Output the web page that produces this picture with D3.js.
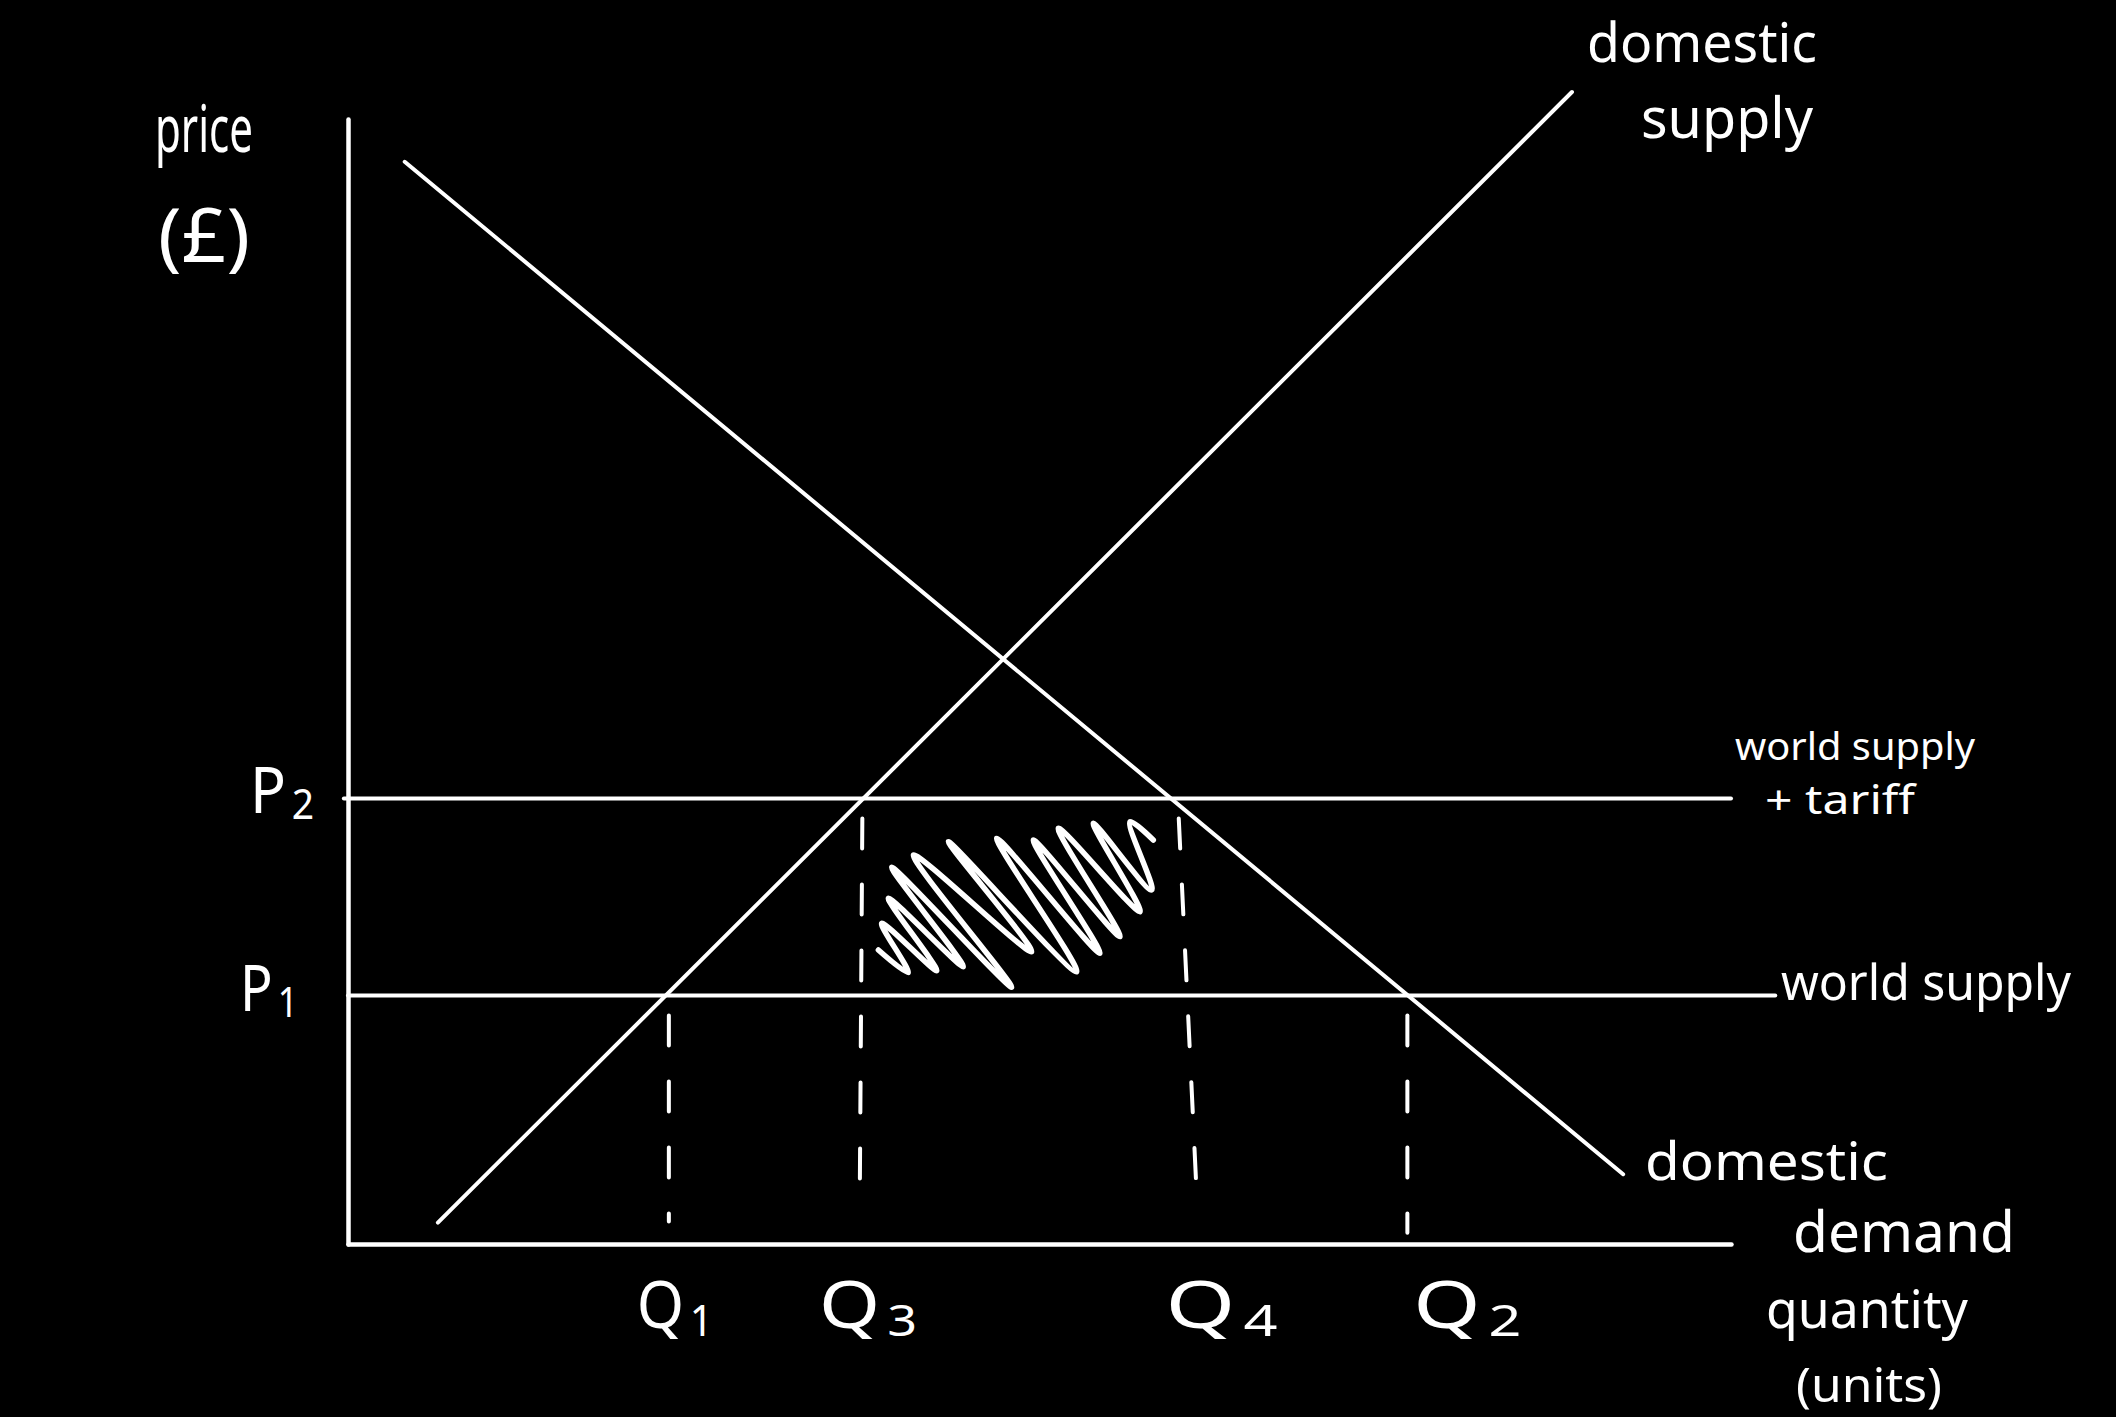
<!DOCTYPE html>
<html>
<head>
<meta charset="utf-8">
<script src="https://cdn.jsdelivr.net/npm/d3@7/dist/d3.min.js"></script>
<style>
  html, body { margin: 0; padding: 0; background: #000; }
  svg { display: block; }
  text { font-family: "Noto Sans", "DejaVu Sans", sans-serif; fill: #fff; }
</style>
</head>
<body>
<svg id="chart" width="2116" height="1417"></svg>
<script>
// ---------------- DATA ----------------
// Quantity (0-100) and price (0-100) in abstract units
const demandCurve = [{ q: 4.1, p: 96.2 }, { q: 92.2, p: 6.2 }];
const supplyCurve = [{ q: 6.5, p: 1.9 }, { q: 88.5, p: 102.4 }];

const priceNames  = ["P1", "P2"];
const priceValues = [22.1, 39.6];
const priceLineEnds = [103.2, 100];          // quantity where each world-supply line stops

const quantityNames = ["Q1", "Q3", "Q4", "Q2"];
const quantityTop    = [23.2, 37.2, 60.0, 76.6];   // quantity at the top of each drop line
const quantityBottom = [23.2, 37.0, 61.4, 76.6];   // quantity at the bottom of each drop line
const quantityFromP  = [22.1, 39.6, 39.6, 22.1];   // price level each drop line starts from
const quantityToP    = [2.0, 3.5, 3.5, 1.0];

// tariff area scribble (quantity, price)
const scribbleQ = [38.35, 40.51, 38.59, 42.57, 39.07, 44.49, 39.31, 47.99, 40.88, 49.43, 43.41,
                   52.69, 46.90, 54.37, 49.55, 55.82, 51.36, 57.27, 53.89, 58.11, 56.54, 58.23];
const scribbleP = [26.13, 24.12, 28.50, 24.30, 30.73, 24.65, 33.48, 22.82, 34.58, 25.98, 35.76,
                   24.20, 36.06, 25.84, 35.91, 27.32, 36.95, 29.54, 37.40, 31.47, 37.54, 35.91];

// each label is a list of lines
const textLabels = [
  ["price", "(£)"],
  ["domestic", "supply"],
  ["world supply", "+ tariff"],
  ["world supply"],
  ["domestic", "demand"],
  ["quantity", "(units)"]
];

// ---------------- DRAW ----------------
const svg = d3.select("#chart");
svg.append("rect").attr("width", 2116).attr("height", 1417).attr("fill", "#000");

const x = d3.scaleLinear().domain([0, 100]).range([348, 1731]);
const y = d3.scaleLinear().domain([0, 100]).range([1244, 119]);

const line = d3.line().x(d => x(d.q)).y(d => y(d.p));

// axes (domain lines only)
svg.append("g").attr("transform", `translate(0,${y(0)})`)
  .call(d3.axisBottom(x).tickValues([]).tickSizeOuter(0));
svg.append("g").attr("transform", `translate(${x(0)},0)`)
  .call(d3.axisLeft(y).tickValues([]).tickSizeOuter(0));
svg.selectAll(".domain").attr("stroke", "#fff").attr("stroke-width", 4.5)
  .attr("stroke-linecap", "round").attr("stroke-linejoin", "round");

// world supply / world supply + tariff
priceValues.forEach((p, i) => {
  svg.append("path")
    .attr("d", line([{ q: i === 1 ? -0.3 : 0, p }, { q: priceLineEnds[i], p }]))
    .attr("stroke", "#fff").attr("stroke-width", 4).attr("fill", "none")
    .attr("stroke-linecap", "round");
});

// demand and supply
[demandCurve, supplyCurve].forEach(c => {
  svg.append("path").attr("d", line(c))
    .attr("stroke", "#fff").attr("stroke-width", 4).attr("fill", "none")
    .attr("stroke-linecap", "round");
});

// dashed drop lines
quantityNames.forEach((n, i) => {
  svg.append("path")
    .attr("d", line([{ q: quantityTop[i], p: quantityFromP[i] }, { q: quantityBottom[i], p: quantityToP[i] }]))
    .attr("stroke", "#fff").attr("stroke-width", 4).attr("fill", "none")
    .attr("stroke-linecap", "round")
    .attr("stroke-dasharray", "30 36")
    .attr("stroke-dashoffset", 46);
});

// scribble
const scribble = scribbleQ.map((q, i) => ({ q, p: scribbleP[i] }));
svg.append("path")
  .attr("d", d3.line().x(d => x(d.q)).y(d => y(d.p)).curve(d3.curveCatmullRom.alpha(0.5))(scribble))
  .attr("stroke", "#fff").attr("stroke-width", 5.5).attr("fill", "none")
  .attr("stroke-linecap", "round").attr("stroke-linejoin", "round");

// quantity labels
const qLayout = [
  { dx: -32, w: 76 }, { dx: -42, w: 98 }, { dx: -22, w: 112 }, { dx: 6, w: 108 }
];
quantityNames.forEach((n, i) => {
  const t = svg.append("text")
    .attr("x", x((quantityTop[i] + quantityBottom[i]) / 2) + qLayout[i].dx)
    .attr("y", 1328)
    .attr("font-size", 66)
    .attr("textLength", qLayout[i].w).attr("lengthAdjust", "spacingAndGlyphs");
  t.append("tspan").text(n[0]);
  t.append("tspan").attr("font-size", 44).attr("dx", 6).attr("dy", 8).text(n.slice(1));
});

// price labels
const pLayout = [{ x: 240, dy: 16, w: 58 }, { x: 250, dy: 14, w: 64 }];
priceNames.forEach((n, i) => {
  const t = svg.append("text")
    .attr("x", pLayout[i].x)
    .attr("y", y(priceValues[i]) + pLayout[i].dy)
    .attr("font-size", 64)
    .attr("textLength", pLayout[i].w).attr("lengthAdjust", "spacingAndGlyphs");
  t.append("tspan").text(n[0]);
  t.append("tspan").attr("font-size", 42).attr("dx", 6).attr("dy", 6).text(n.slice(1));
});

// other hand-written labels (one text element per label, one tspan per line)
const tLayout = [
  [{ x: 155, y: 152, s: 66, w: 98 }, { x: 158, y: 262, s: 74, w: 92 }],        // price (£)
  [{ x: 1587, y: 62, s: 54, w: 230 }, { x: 1641, y: 138, s: 56, w: 172 }],     // domestic supply
  [{ x: 1735, y: 760, s: 38, w: 240 }, { x: 1765, y: 814, s: 40, w: 150 }],    // world supply + tariff
  [{ x: 1781, y: 1000, s: 50, w: 290 }],                                        // world supply
  [{ x: 1645, y: 1180, s: 52, w: 243 }, { x: 1793, y: 1252, s: 56, w: 222 }],  // domestic demand
  [{ x: 1766, y: 1328, s: 52, w: 202 }, { x: 1796, y: 1402, s: 48, w: 146 }]   // quantity (units)
];
textLabels.forEach((lines, i) => {
  const t = svg.append("text");
  lines.forEach((s, j) => {
    const L = tLayout[i][j];
    t.append("tspan")
      .attr("x", L.x).attr("y", L.y)
      .attr("font-size", L.s)
      .attr("textLength", L.w).attr("lengthAdjust", "spacingAndGlyphs")
      .text(s);
  });
});
</script>
</body>
</html>
